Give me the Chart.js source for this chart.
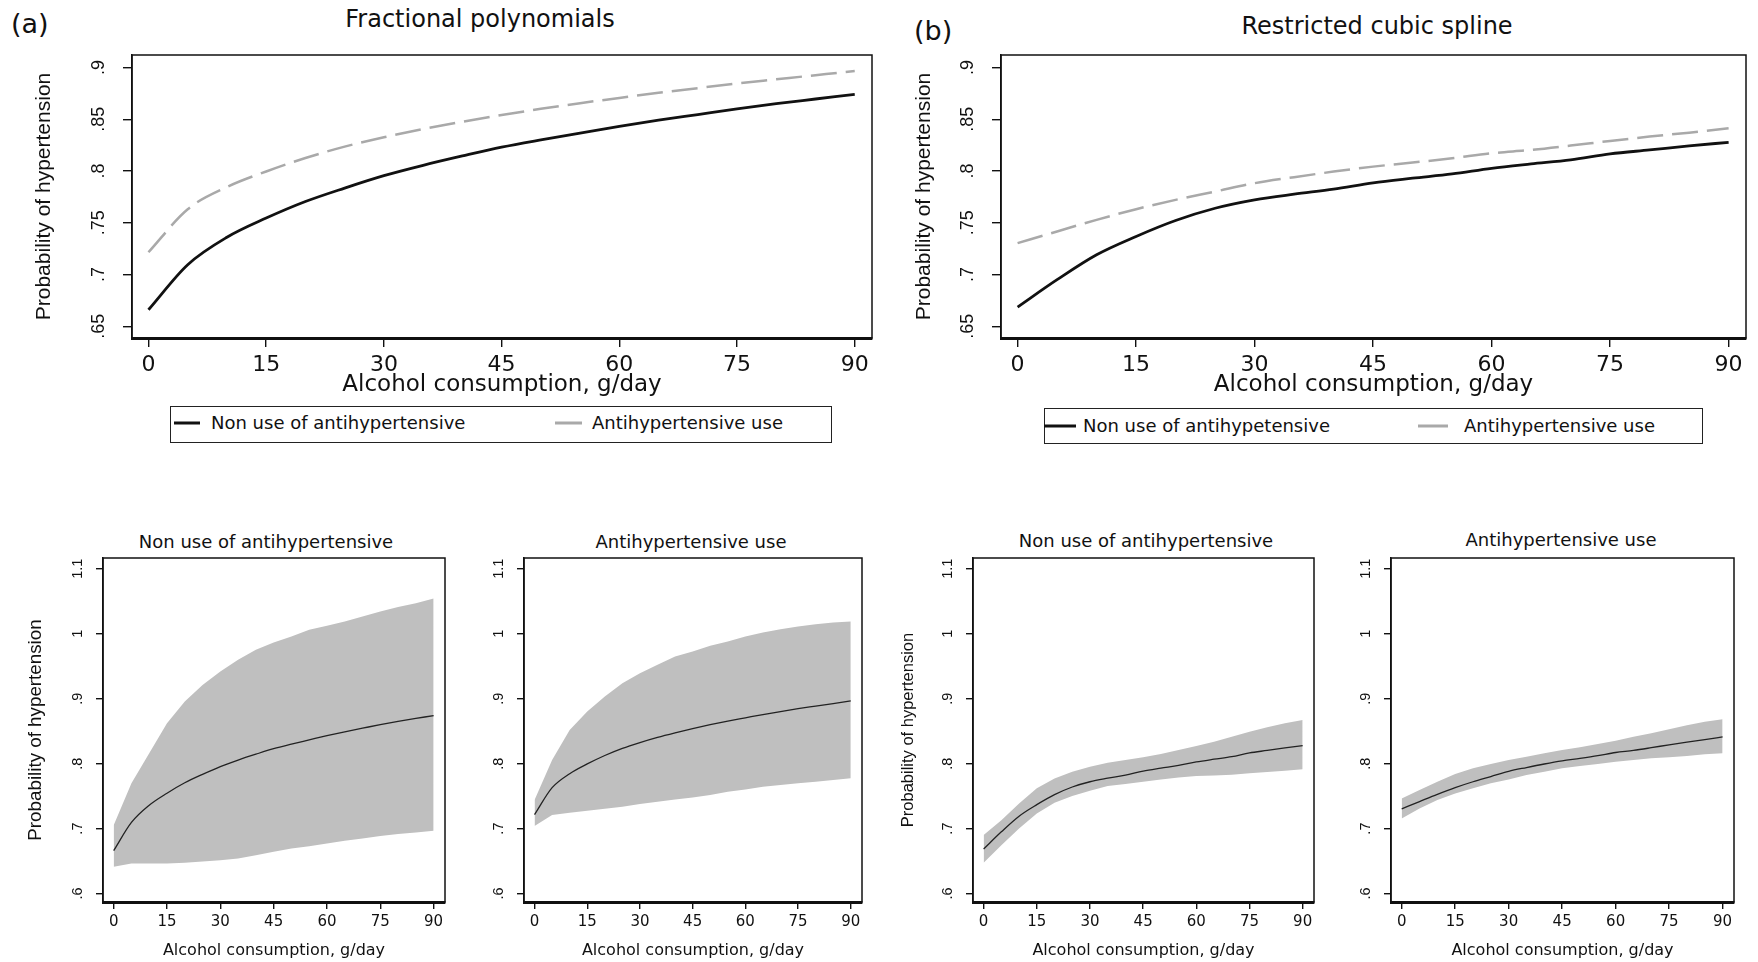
<!DOCTYPE html>
<html lang="en">
<head>
    <meta charset="utf-8" />
    <title>Alcohol consumption and probability of hypertension</title>
    <style>
        body {
            margin: 0;
            background: #fff;
        }

        #page {
            position: relative;
            width: 1758px;
            height: 962px;
            overflow: hidden;
            font-family: "DejaVu Sans", sans-serif;
            color: #111;
        }

        #page canvas {
            position: absolute;
        }

        .lbl {
            position: absolute;
            white-space: nowrap;
            line-height: 1;
            transform: translate(-50%, -50%);
        }

        .tag {
            position: absolute;
            font-size: 27px;
            line-height: 1;
            transform: translateY(-50%);
        }

        .legend {
            position: absolute;
            border: 1.5px solid #222;
            box-sizing: border-box;
        }

        .key {
            position: absolute;
            height: 3px;
            transform: translateY(-50%);
        }

        .ktext {
            position: absolute;
            font-size: 18px;
            line-height: 1;
            white-space: nowrap;
            transform: translateY(-50%);
        }
    </style>
</head>
<body>
    <div id="page">
        <div class="tag" style="left:11px; top:23px;">(a)</div>
        <div class="lbl" style="left:480px; top:19px; font-size:24px;">Fractional polynomials</div>
        <div class="tag" style="left:914px; top:30px;">(b)</div>
        <div class="lbl" style="left:1377px; top:26px; font-size:24px;">Restricted cubic spline</div>

        <canvas id="chartA" width="880" height="400" style="left:0px; top:0px;"></canvas>
        <canvas id="chartB" width="878" height="400" style="left:880px; top:0px;"></canvas>

        <div class="legend" style="left:170px; top:406px; width:662px; height:37px;"></div>
        <div class="key" style="left:174px; top:423px; width:26px; background:#111;"></div>
        <div class="ktext" style="left:211px; top:423px;">Non use of antihypertensive</div>
        <div class="key" style="left:555px; top:423px; width:27px; background:#a9a9a9;"></div>
        <div class="ktext" style="left:592px; top:423px;">Antihypertensive use</div>

        <div class="legend" style="left:1044px; top:408px; width:659px; height:36px;"></div>
        <div class="key" style="left:1044px; top:426px; width:32px; background:#111;"></div>
        <div class="ktext" style="left:1083px; top:426px;">Non use of antihypetensive</div>
        <div class="key" style="left:1418px; top:426px; width:30px; background:#a9a9a9;"></div>
        <div class="ktext" style="left:1464px; top:426px;">Antihypertensive use</div>

        <div class="lbl" style="left:266px; top:542px; font-size:18px;">Non use of antihypertensive</div>
        <div class="lbl" style="left:691px; top:542px; font-size:18px;">Antihypertensive use</div>
        <div class="lbl" style="left:1146px; top:541px; font-size:18px;">Non use of antihypertensive</div>
        <div class="lbl" style="left:1561px; top:540px; font-size:18px;">Antihypertensive use</div>

        <canvas id="chartC" width="470" height="462" style="left:0px; top:500px;"></canvas>
        <canvas id="chartD" width="410" height="462" style="left:470px; top:500px;"></canvas>
        <canvas id="chartE" width="470" height="462" style="left:880px; top:500px;"></canvas>
        <canvas id="chartF" width="408" height="462" style="left:1350px; top:500px;"></canvas>
    </div>

    <script src="https://cdn.jsdelivr.net/npm/chart.js@4.4.0/dist/chart.umd.min.js"></script>

    <script type="text/JavaScript">

        // alcohol consumption, g/day
        var xs = [0, 5, 10, 15, 20, 25, 30, 35, 40, 45, 50, 55, 60, 65, 70, 75, 80, 85, 90];
        var xTicks = [0, 15, 30, 45, 60, 75, 90];
        var topYTicks = [0.65, 0.7, 0.75, 0.8, 0.85, 0.9];
        var bandYTicks = [0.6, 0.7, 0.8, 0.9, 1, 1.1];
        var xTitle = "Alcohol consumption, g/day";
        var yTitle = "Probability of hypertension";

        // fractional polynomials
        var fpNonUse = [0.666, 0.7095, 0.736, 0.7545, 0.7705, 0.7835, 0.7955, 0.8055, 0.8145, 0.823, 0.83, 0.8365, 0.843, 0.849, 0.8545, 0.86, 0.865, 0.8695, 0.874];
        var fpUse = [0.7215, 0.763, 0.7845, 0.7995, 0.8125, 0.8235, 0.8325, 0.8405, 0.8475, 0.854, 0.86, 0.8655, 0.8705, 0.8755, 0.88, 0.8845, 0.8885, 0.8925, 0.8965];
        var fpNonUpper = [0.705, 0.7696, 0.8158, 0.862, 0.8955, 0.9212, 0.9417, 0.9597, 0.9751, 0.9864, 0.9957, 1.006, 1.0121, 1.0188, 1.0265, 1.0342, 1.0409, 1.047, 1.0543];
        var fpNonLower = [0.6411, 0.6462, 0.6462, 0.6462, 0.6473, 0.6493, 0.6514, 0.654, 0.6591, 0.6642, 0.6694, 0.673, 0.6771, 0.6812, 0.6848, 0.6884, 0.6915, 0.694, 0.6966];
        var fpUseUpper = [0.7439, 0.8056, 0.8518, 0.8801, 0.9032, 0.9237, 0.9392, 0.952, 0.9649, 0.9726, 0.9813, 0.988, 0.9957, 1.0018, 1.007, 1.0111, 1.0147, 1.0173, 1.0188];
        var fpUseLower = [0.7038, 0.7208, 0.7244, 0.7274, 0.7305, 0.7336, 0.7377, 0.7413, 0.7449, 0.748, 0.7516, 0.7567, 0.7603, 0.7644, 0.767, 0.7696, 0.7722, 0.7747, 0.7773];

        // restricted cubic spline
        var rcsNonUse = [0.6686, 0.695, 0.7191, 0.7368, 0.7522, 0.764, 0.7721, 0.7776, 0.7824, 0.7885, 0.793, 0.7972, 0.8026, 0.8068, 0.8107, 0.8165, 0.8203, 0.8242, 0.8277];
        var rcsUse = [0.7303, 0.7416, 0.7528, 0.7631, 0.7721, 0.7801, 0.7882, 0.794, 0.7994, 0.8042, 0.8081, 0.8123, 0.8171, 0.8203, 0.8245, 0.829, 0.8332, 0.837, 0.8412];
        var rcsNonUpper = [0.69, 0.713, 0.7387, 0.7619, 0.7772, 0.7876, 0.7953, 0.8014, 0.8055, 0.8097, 0.8148, 0.821, 0.8271, 0.8338, 0.8415, 0.8492, 0.8559, 0.8621, 0.8672];
        var rcsNonLower = [0.6473, 0.6745, 0.7002, 0.7233, 0.7398, 0.75, 0.7583, 0.7655, 0.7686, 0.7721, 0.7757, 0.7788, 0.7809, 0.7819, 0.783, 0.785, 0.787, 0.7891, 0.7912];
        var rcsUseUpper = [0.7465, 0.7593, 0.7722, 0.784, 0.7927, 0.7994, 0.8055, 0.8107, 0.8158, 0.821, 0.8251, 0.8302, 0.8353, 0.8415, 0.8467, 0.8528, 0.859, 0.8646, 0.8682];
        var rcsUseLower = [0.7156, 0.731, 0.7439, 0.7542, 0.7619, 0.7696, 0.7757, 0.7824, 0.7876, 0.7927, 0.7963, 0.7994, 0.803, 0.8055, 0.8081, 0.8097, 0.8117, 0.8143, 0.8158];

        var INK = "#111";
        var GREY_LINE = "#a9a9a9";
        var BAND = "#bfbfbf";

        var pts = function (ys) {
            return xs.map(function (x, i) { return { x: x, y: ys[i] }; });
        };

        var fmtProb = function (v) {
            return String(v).replace(/^0\./, ".");
        };

        // Stata-like outline around the plot region
        var plotBox = {
            id: "plotBox",
            afterDatasetsDraw: function (chart) {
                var a = chart.chartArea, ctx = chart.ctx;
                ctx.save();
                ctx.strokeStyle = INK;
                ctx.lineWidth = 1.5;
                ctx.strokeRect(a.left, a.top, a.right - a.left, a.bottom - a.top);
                ctx.restore();
            }
        };

        var makePanel = function (id, sets, o) {
            return new Chart(document.getElementById(id), {
                type: "line",
                data: { datasets: sets },
                plugins: [plotBox],
                options: {
                    responsive: false,
                    animation: false,
                    devicePixelRatio: 1,
                    layout: { padding: { top: o.top, right: o.right, left: 0, bottom: 0 } },
                    plugins: {
                        legend: { display: false },
                        tooltip: { enabled: false },
                        title: { display: false }
                    },
                    elements: { point: { radius: 0 } },
                    scales: {
                        x: {
                            type: "linear",
                            min: o.xMin,
                            max: o.xMax,
                            afterBuildTicks: function (s) { s.ticks = xTicks.map(function (v) { return { value: v }; }); },
                            afterFit: function (s) { s.height = o.xHeight; },
                            grid: { drawOnChartArea: false, drawTicks: true, tickLength: o.tick, color: INK, lineWidth: 1.4 },
                            border: { display: true, color: INK, width: 3 },
                            ticks: {
                                autoSkip: false, maxRotation: 0, minRotation: 0, padding: o.xPad, color: INK,
                                font: { family: "DejaVu Sans", size: o.xTickSize }
                            },
                            title: {
                                display: true, text: xTitle, color: INK,
                                font: { family: "DejaVu Sans", size: o.xTitleSize },
                                padding: { top: 0, bottom: o.xTitlePad }
                            }
                        },
                        y: {
                            type: "linear",
                            min: o.yMin,
                            max: o.yMax,
                            afterBuildTicks: function (s) { s.ticks = o.yTicks.map(function (v) { return { value: v }; }); },
                            afterFit: function (s) { s.width = o.yWidth; },
                            grid: { drawOnChartArea: false, drawTicks: true, tickLength: o.tick, color: INK, lineWidth: 1.4 },
                            border: { display: true, color: INK, width: 1.5 },
                            ticks: {
                                autoSkip: false, minRotation: 90, maxRotation: 90, crossAlign: "center",
                                padding: o.yPad, color: INK, callback: fmtProb,
                                font: { family: "Liberation Sans", size: o.yTickSize }
                            },
                            title: {
                                display: o.yTitleSize > 0, text: yTitle, color: INK,
                                font: { family: "Liberation Sans", size: o.yTitleSize || 12 },
                                padding: { top: o.yTitlePad || 0, bottom: 0 }
                            }
                        }
                    }
                }
            });
        };

        var twoLines = function (black, grey) {
            return [
                { data: pts(black), borderColor: INK, borderWidth: 2.8, fill: false, cubicInterpolationMode: "monotone" },
                { data: pts(grey), borderColor: GREY_LINE, borderWidth: 2.5, borderDash: [26, 9], fill: false, cubicInterpolationMode: "monotone" }
            ];
        };

        var lineWithBand = function (mid, upper, lower) {
            return [
                { data: pts(mid), borderColor: "#222", borderWidth: 1.3, fill: false, cubicInterpolationMode: "monotone" },
                { data: pts(upper), borderWidth: 0, borderColor: BAND, backgroundColor: BAND, fill: "+1", tension: 0 },
                { data: pts(lower), borderWidth: 0, borderColor: BAND, fill: false, tension: 0 }
            ];
        };

        var topOpts = function (extra) {
            var o = {
                top: 55, xMin: -2.1, xMax: 92.2, yMin: 0.6387, yMax: 0.912, yTicks: topYTicks,
                xHeight: 62, tick: 9, xPad: 5, xTickSize: 22, xTitleSize: 23, xTitlePad: 1,
                yPad: 11, yTickSize: 18, yTitleSize: 21, yTitlePad: 32
            };
            for (var k in extra) { o[k] = extra[k]; }
            return o;
        };

        var bandOpts = function (extra) {
            var o = {
                top: 58, xMin: -3, xMax: 93.2, yMin: 0.587, yMax: 1.1165, yTicks: bandYTicks,
                xHeight: 60, tick: 7, xPad: 4, xTickSize: 15, xTitleSize: 16, xTitlePad: 2,
                yPad: 8, yTickSize: 14.5, yTitleSize: 0
            };
            for (var k in extra) { o[k] = extra[k]; }
            return o;
        };

        makePanel("chartA", twoLines(fpNonUse, fpUse), topOpts({ right: 8, yWidth: 132 }));
        makePanel("chartB", twoLines(rcsNonUse, rcsUse), topOpts({ right: 12, yWidth: 121 }));

        makePanel("chartC", lineWithBand(fpNonUse, fpNonUpper, fpNonLower),
            bandOpts({ right: 25, yWidth: 103, yTitleSize: 18.8, yTitlePad: 25 }));
        makePanel("chartD", lineWithBand(fpUse, fpUseUpper, fpUseLower),
            bandOpts({ right: 18, yWidth: 54 }));
        makePanel("chartE", lineWithBand(rcsNonUse, rcsNonUpper, rcsNonLower),
            bandOpts({ right: 36, yWidth: 93, yTitleSize: 16.5, yTitlePad: 19 }));
        makePanel("chartF", lineWithBand(rcsUse, rcsUseUpper, rcsUseLower),
            bandOpts({ right: 24, yWidth: 41 }));

    </script>
</body>
</html>
